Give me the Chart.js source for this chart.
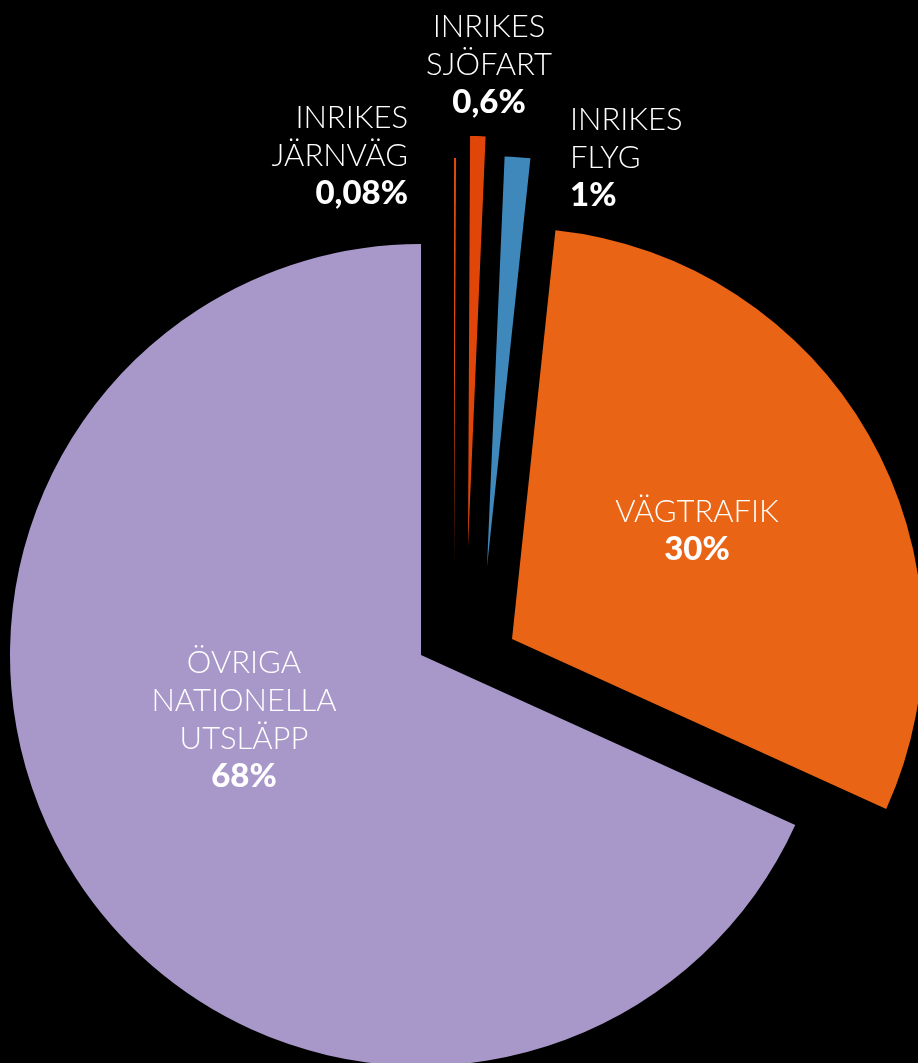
<!DOCTYPE html>
<html>
<head>
<meta charset="utf-8">
<script src="https://cdn.jsdelivr.net/npm/chart.js@4/dist/chart.umd.min.js"></script>
<style>
  html, body { margin: 0; padding: 0; background: #000; }
  #wrap { width: 918px; height: 1063px; }
</style>
</head>
<body>
<div id="wrap"><canvas id="pie" width="918" height="1063"></canvas></div>
<script>
// data, clockwise from 12 o'clock
const categories = ['INRIKES JÄRNVÄG', 'INRIKES SJÖFART', 'INRIKES FLYG', 'VÄGTRAFIK', 'ÖVRIGA NATIONELLA UTSLÄPP'];
const shares = [0.08, 0.6, 1, 30, 68];
const sliceColors = ['#dd4a0e', '#e0460a', '#3f88bb', '#e96414', '#a898ca'];

// how far each slice is pulled out of the pie (px)
const pullX = [33, 47, 66, 91, 0];
const pullY = [-86, -108, -88, -16, 0];

// where each label block sits: x, first baseline, alignment
const labelX = [408, 489, 570, 697, 244];
const labelY = [128, 37, 130, 522, 673];
const labelAlign = ['right', 'center', 'left', 'center', 'center'];
const lineGap = 38;

function pctText(v) {
  return String(v).replace('.', ',') + '%';
}

const pullSlices = {
  id: 'pullSlices',
  afterDatasetUpdate(chart, args) {
    const arcs = chart.getDatasetMeta(args.index).data;
    arcs.forEach((arc, i) => {
      arc.x += pullX[i];
      arc.y += pullY[i];
    });
  }
};

const sliceLabels = {
  id: 'sliceLabels',
  afterDraw(chart) {
    const ctx = chart.ctx;
    ctx.save();
    ctx.fillStyle = '#ffffff';
    ctx.textBaseline = 'alphabetic';
    categories.forEach((name, i) => {
      ctx.textAlign = labelAlign[i];
      const lines = name.split(' ');
      let y = labelY[i];
      ctx.font = '300 31px Lato, "Open Sans", sans-serif';
      lines.forEach(line => {
        ctx.fillText(line, labelX[i], y);
        y += lineGap;
      });
      ctx.font = '900 33px Lato, "Open Sans", sans-serif';
      ctx.fillText(pctText(shares[i]), labelX[i], y);
    });
    ctx.restore();
  }
};

new Chart(document.getElementById('pie'), {
  type: 'pie',
  data: {
    labels: categories,
    datasets: [{
      data: shares,
      backgroundColor: sliceColors,
      borderWidth: 0,
      clip: false
    }]
  },
  options: {
    responsive: false,
    animation: false,
    radius: 411,
    layout: { padding: { left: 0, right: 76, top: 247, bottom: 0 } },
    plugins: {
      legend: { display: false },
      tooltip: { enabled: false }
    }
  },
  plugins: [pullSlices, sliceLabels]
});
</script>
</body>
</html>
